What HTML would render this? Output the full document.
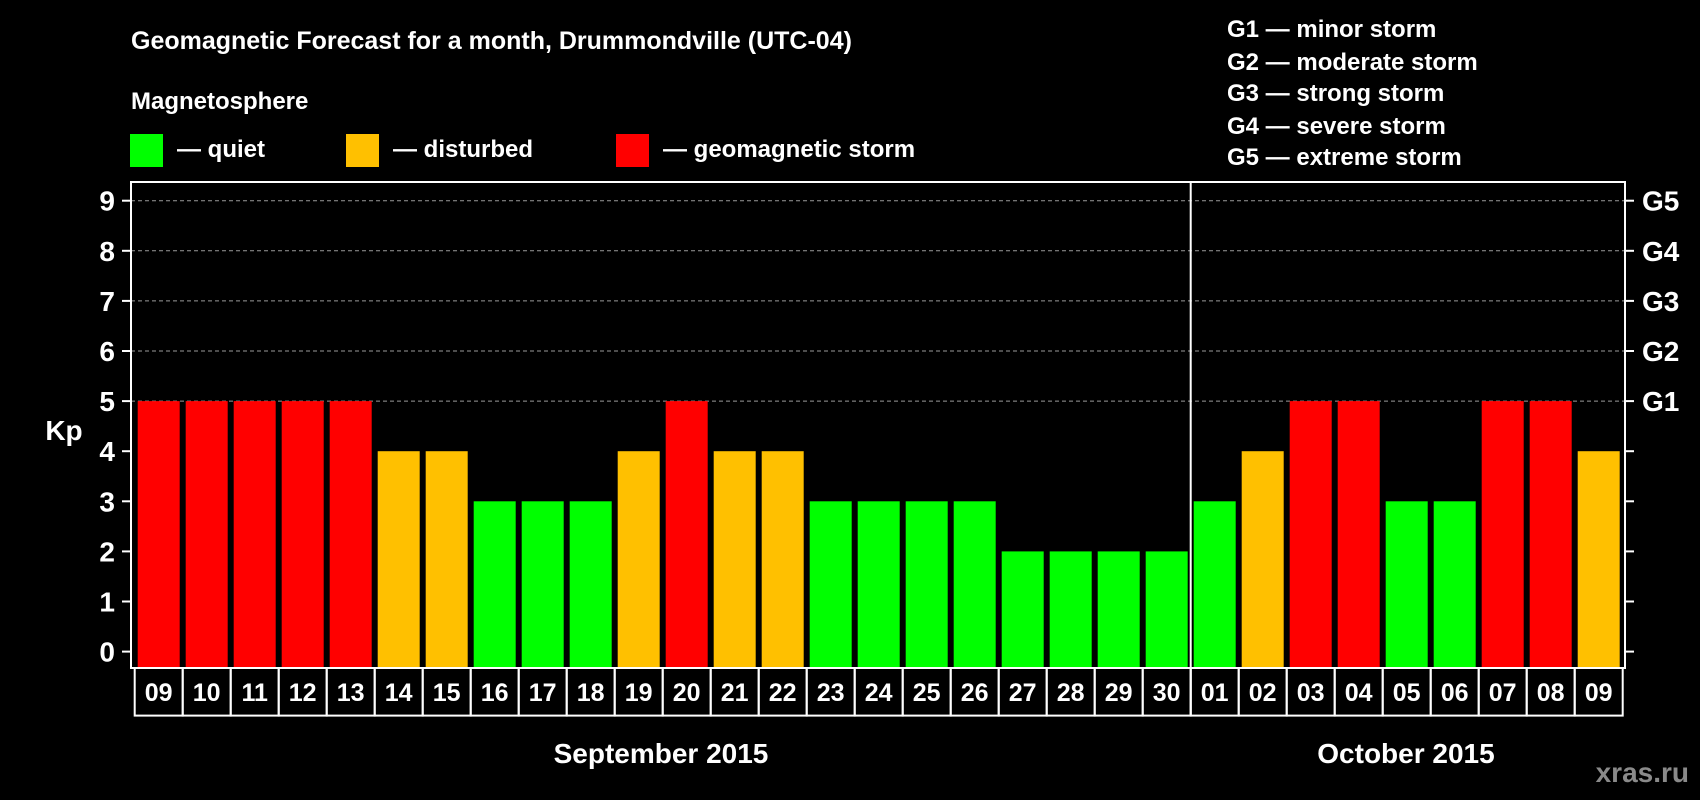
<!DOCTYPE html>
<html><head><meta charset="utf-8"><style>
html,body{margin:0;padding:0;background:#000;}
svg{display:block;font-family:"Liberation Sans",Arial,sans-serif;font-weight:bold;}
</style></head><body>
<svg id="chart" width="1700" height="800" viewBox="0 0 1700 800" xmlns="http://www.w3.org/2000/svg">
<rect width="1700" height="800" fill="#000"/>
<text x="131" y="49" fill="#fff" font-size="25">Geomagnetic Forecast for a month, Drummondville (UTC-04)</text>
<text x="131" y="109" fill="#fff" font-size="24">Magnetosphere</text>
<g><rect x="130" y="134" width="33" height="33" fill="#00ff00"/><text x="177" y="157" fill="#fff" font-size="24">— quiet</text></g>
<g><rect x="346" y="134" width="33" height="33" fill="#ffc000"/><text x="393" y="157" fill="#fff" font-size="24">— disturbed</text></g>
<g><rect x="616" y="134" width="33" height="33" fill="#ff0000"/><text x="663" y="157" fill="#fff" font-size="24">— geomagnetic storm</text></g>
<g fill="#fff" font-size="24">
<text x="1227" y="37">G1 — minor storm</text>
<text x="1227" y="70">G2 — moderate storm</text>
<text x="1227" y="101">G3 — strong storm</text>
<text x="1227" y="134">G4 — severe storm</text>
<text x="1227" y="165">G5 — extreme storm</text>
</g>
<text x="64" y="440" fill="#fff" font-size="28" text-anchor="middle">Kp</text>
<g id="grid"></g><g id="bars"></g><g id="axes"></g>
<text x="661" y="763" fill="#fff" font-size="28" text-anchor="middle">September 2015</text>
<text x="1406" y="763" fill="#fff" font-size="28" text-anchor="middle">October 2015</text>
<text x="1689" y="782" fill="#8a8a8a" font-size="28" text-anchor="end">xras.ru</text>
</svg>
<script>
const days = ["09","10","11","12","13","14","15","16","17","18","19","20","21","22","23","24","25","26","27","28","29","30","01","02","03","04","05","06","07","08","09"];
const kpValues = [5,5,5,5,5,4,4,3,3,3,4,5,4,4,3,3,3,3,2,2,2,2,3,4,5,5,3,3,5,5,4];
const yTicks = [0,1,2,3,4,5,6,7,8,9];
const gLabels = ["","","","","","G1","G2","G3","G4","G5"];
const monthBreakIndex = 22;

const NS="http://www.w3.org/2000/svg";
const L=131,R=1625,T=182,B=668;
const y0=651.6,unit=50.1;
function yScale(v){return y0-v*unit;}
function xScale(i){return 137.7+i*48;}
const bw=42;
function mk(tag,attrs,parent){const e=document.createElementNS(NS,tag);for(const k in attrs)e.setAttribute(k,attrs[k]);parent.appendChild(e);return e;}
function color(v){return v>=5?"#ff0000":(v>=4?"#ffc000":"#00ff00");}
const grid=document.getElementById('grid'),bars=document.getElementById('bars'),axes=document.getElementById('axes');
yTicks.forEach(t=>{
  const y=yScale(t);
  if(t>=5){const g=mk('line',{x1:L,x2:R,y1:y,y2:y,stroke:'#9a9a9a','stroke-width':1,'stroke-dasharray':'4,3'},grid);
    
    }
  const tl=mk('line',{x1:L-9,x2:L,y1:y,y2:y,stroke:'#fff','stroke-width':2},axes);
  
  
  const tr=mk('line',{x1:R,x2:R+9,y1:y,y2:y,stroke:'#fff','stroke-width':2},axes);
  
  
  const lb=mk('text',{x:L-16,y:y+10,fill:'#fff','font-size':28,'text-anchor':'end'},axes);
  lb.textContent=t;
  
  
  if(gLabels[t]){const gl=mk('text',{x:R+17,y:y+10,fill:'#fff','font-size':28},axes);
    gl.textContent=gLabels[t];
    
    }
});
kpValues.forEach((v,i)=>{
  const x=xScale(i);
  const r=mk('rect',{x:x,y:yScale(v),width:bw,height:B-yScale(v),fill:color(v)},bars);
  
  
  const c=mk('rect',{x:x-3,y:B,width:48,height:47.6,fill:'none',stroke:'#fff','stroke-width':2},axes);
  
  
  const t=mk('text',{x:x+bw/2,y:B+33,fill:'#fff','font-size':25,'text-anchor':'middle'},axes);
  t.textContent=days[i];
  
  
});
const fr=mk('rect',{x:L,y:T,width:R-L,height:B-T,fill:'none',stroke:'#fff','stroke-width':2},axes);


const dx=xScale(monthBreakIndex)-3;
const dv=mk('line',{x1:dx,x2:dx,y1:T,y2:B+47.6,stroke:'#fff','stroke-width':2},axes);


</script>
</body></html>
